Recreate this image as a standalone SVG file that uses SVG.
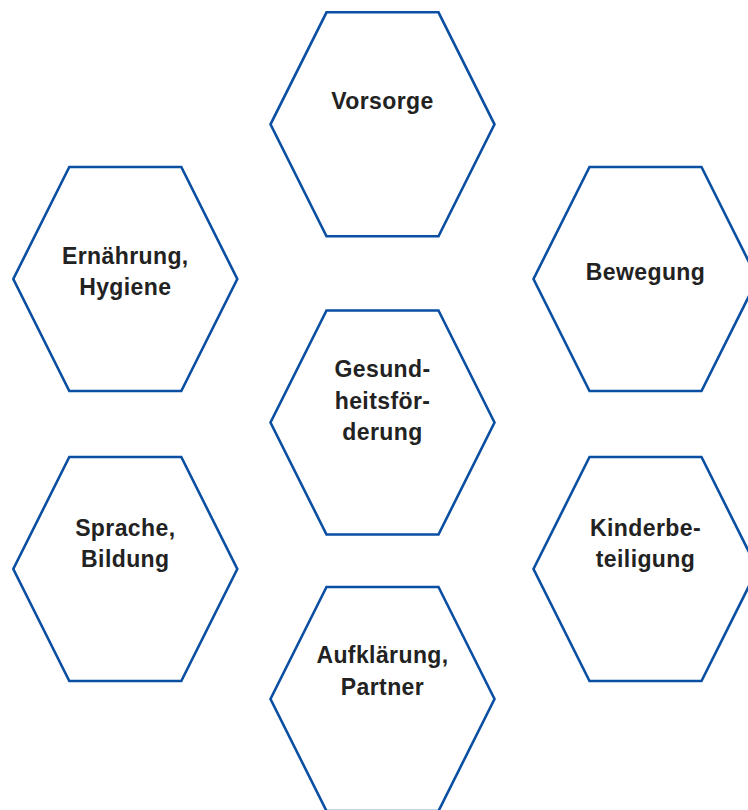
<svg xmlns="http://www.w3.org/2000/svg" width="748" height="810" viewBox="0 0 748 810">
<defs>
<style>
.hex{fill:#fff;stroke:#0b4fa2;stroke-width:2.6;stroke-linejoin:miter}
.lbl{font-family:"Liberation Sans",Arial,sans-serif;font-weight:bold;font-size:23px;letter-spacing:0.4px;fill:#222;text-anchor:middle}
</style>
<polygon id="hexshape" points="-56,-112 56,-112 112,0 56,112 -56,112 -112,0"/>
</defs>
<rect width="748" height="810" fill="#fff"/>
<g id="connectors"/>
<g id="vorsorge" transform="translate(382.5,124.3)">
<use href="#hexshape" class="hex"/>
<text class="lbl" x="0" y="-15.3">Vorsorge</text>
</g>
<g id="ernaehrung" transform="translate(125.3,279)">
<use href="#hexshape" class="hex"/>
<text class="lbl" x="0" y="-15">Ernährung,</text>
<text class="lbl" x="0" y="16">Hygiene</text>
</g>
<g id="bewegung" transform="translate(645.5,279)">
<use href="#hexshape" class="hex"/>
<text class="lbl" x="0" y="1">Bewegung</text>
</g>
<g id="gesundheit" transform="translate(382.5,422.5)">
<use href="#hexshape" class="hex"/>
<text class="lbl" x="0" y="-45.5">Gesund-</text>
<text class="lbl" x="0" y="-14">heitsför-</text>
<text class="lbl" x="0" y="17.5">derung</text>
</g>
<g id="sprache" transform="translate(125.3,569)">
<use href="#hexshape" class="hex"/>
<text class="lbl" x="0" y="-33">Sprache,</text>
<text class="lbl" x="0" y="-1.7">Bildung</text>
</g>
<g id="kinder" transform="translate(645.5,569)">
<use href="#hexshape" class="hex"/>
<text class="lbl" x="0" y="-33">Kinderbe-</text>
<text class="lbl" x="0" y="-2">teiligung</text>
</g>
<g id="aufklaerung" transform="translate(382.5,699)">
<use href="#hexshape" class="hex"/>
<text class="lbl" x="0" y="-35.7">Aufklärung,</text>
<text class="lbl" x="0" y="-4">Partner</text>
</g>
</svg>
